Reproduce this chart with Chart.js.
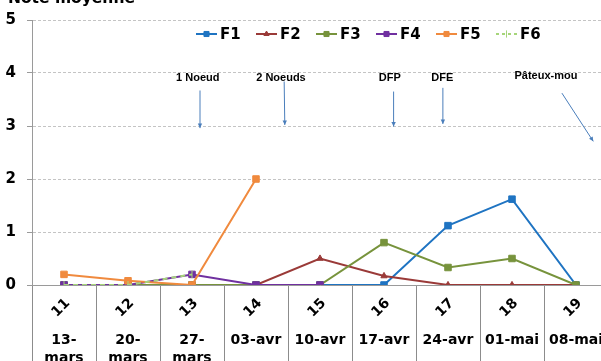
<!DOCTYPE html>
<html>
<head>
<meta charset="utf-8">
<script src="https://cdn.jsdelivr.net/npm/chart.js@4.4.1/dist/chart.umd.min.js"></script>
<style>
  html, body { margin: 0; padding: 0; background: #fff; overflow: hidden; width: 601px; height: 361px; }
  canvas { display: block; }
</style>
</head>
<body>
<canvas id="chart" width="620" height="361"></canvas>
<script>
// Weekly mean score per plot (F1..F6)
const yTitle = 'Note moyenne';
const weeks = ['11', '12', '13', '14', '15', '16', '17', '18', '19'];
const dates = ['13-mars', '20-mars', '27-mars', '03-avr', '10-avr', '17-avr', '24-avr', '01-mai', '08-mai'];
const yTicks = [0, 1, 2, 3, 4, 5];

const f1 = [0, 0, 0, 0, 0, 0, 1.12, 1.62, 0];
const f2 = [0, 0, 0, 0, 0.5, 0.17, 0, 0, 0];
const f3 = [0, 0, 0, 0, 0, 0.8, 0.33, 0.5, 0];
const f4 = [0, 0, 0.2, 0, 0, null, null, null, null];
const f5 = [0.2, 0.08, 0, 2, null, null, null, null, null];
const f6 = [0, 0, 0.2, null, null, null, null, null, null];

// Growth stage notes: label, text anchor and arrow (category index, score)
const noteLabels = ['1 Noeud', '2 Noeuds', 'DFP', 'DFE', 'Pâteux-mou'];
const noteText   = [[2.09, 3.9], [3.39, 3.9], [5.09, 3.9], [5.91, 3.9], [7.53, 3.94]];
const noteFrom   = [[2.125, 3.67], [3.44, 3.84], [5.15, 3.65], [5.92, 3.72], [7.78, 3.62]];
const noteTo     = [[2.125, 2.96], [3.45, 3.02], [5.15, 2.99], [5.92, 3.04], [8.27, 2.71]];

const FONT = '"DejaVu Sans", Verdana, sans-serif';
Chart.defaults.font.family = FONT;

function series(label, data, color, style, radius, extra) {
  return Object.assign({
    label, data,
    borderColor: color, backgroundColor: color,
    pointBackgroundColor: color, pointBorderColor: color,
    borderWidth: 2, pointStyle: style, pointRadius: radius, pointBorderWidth: 1,
    tension: 0, spanGaps: false
  }, extra || {});
}

const datasets = [
  series('F1', f1, '#1F74C2', 'rect', 4.6),
  series('F2', f2, '#9A3A38', 'triangle', 3.6),
  series('F3', f3, '#77933C', 'rect', 4.6),
  series('F4', f4, '#7030A0', 'rect', 4.6),
  series('F5', f5, '#F08A3E', 'rect', 4.6),
  series('F6', f6, '#A6D57A', 'line', 4, { borderDash: [5, 4], pointRotation: 90 })
];
// later series are painted above earlier ones
datasets.forEach((d, i) => { d.order = datasets.length - i; });

const overlay = {
  id: 'overlay',
  afterDraw(chart) {
    const { ctx, scales: { x, y } } = chart;
    ctx.save();

    // axis title (top-left)
    ctx.fillStyle = '#000';
    ctx.font = 'bold 15.5px ' + FONT;
    ctx.textAlign = 'left';
    ctx.textBaseline = 'alphabetic';
    ctx.fillText(yTitle, 8, 3);

    // two-level category labels
    ctx.font = 'bold 14px ' + FONT;
    ctx.textAlign = 'center';
    ctx.textBaseline = 'middle';
    weeks.forEach((w, i) => {
      const px = x.getPixelForValue(i);
      ctx.save();
      ctx.translate(px - 3, x.top + 23);
      ctx.rotate(-Math.PI / 4);
      ctx.fillText(w, 0, 0);
      ctx.restore();
      const d = dates[i];
      let lines = [d];
      if (ctx.measureText(d).width > 58) {
        const k = d.indexOf('-') + 1;
        lines = [d.slice(0, k), d.slice(k)];
      }
      lines.forEach((ln, k) => ctx.fillText(ln, px, x.top + 55 + k * 18));
    });

    // legend: line sample with marker, then label
    ctx.font = 'bold 15px ' + FONT;
    ctx.textAlign = 'left';
    chart.data.datasets.forEach((ds, i) => {
      const x0 = 196 + 60 * i, yy = 34;
      ctx.strokeStyle = ds.borderColor;
      ctx.fillStyle = ds.backgroundColor;
      ctx.lineWidth = 2;
      ctx.setLineDash(ds.borderDash ? [3, 3] : []);
      ctx.beginPath();
      ctx.moveTo(x0, yy);
      ctx.lineTo(x0 + 21, yy);
      ctx.stroke();
      ctx.setLineDash([]);
      ctx.lineWidth = 1;
      Chart.helpers.drawPoint(ctx, {
        pointStyle: ds.pointStyle, rotation: ds.pointRotation || 0,
        radius: ds.pointStyle === 'triangle' ? 3 : 3.6, borderWidth: 1
      }, x0 + 10.5, yy);
      ctx.fillStyle = '#000';
      ctx.fillText(ds.label, x0 + 24, yy + 1);
    });

    // growth stage notes with arrows
    ctx.font = 'bold 11px "Liberation Sans", Arial, sans-serif';
    ctx.textAlign = 'center';
    ctx.strokeStyle = '#4A7EBB';
    noteLabels.forEach((t, i) => {
      const tx = x.getPixelForValue(noteText[i][0]);
      const ty = y.getPixelForValue(noteText[i][1]);
      ctx.fillStyle = '#000';
      ctx.fillText(t, tx, ty);
      const ax = x.getPixelForValue(noteFrom[i][0]), ay = y.getPixelForValue(noteFrom[i][1]);
      const bx = x.getPixelForValue(noteTo[i][0]), by = y.getPixelForValue(noteTo[i][1]);
      ctx.lineWidth = 1;
      ctx.beginPath();
      ctx.moveTo(ax, ay);
      ctx.lineTo(bx, by);
      ctx.stroke();
      const ang = Math.atan2(by - ay, bx - ax), h = 4.5, w = 2.2;
      ctx.fillStyle = '#4A7EBB';
      ctx.beginPath();
      ctx.moveTo(bx, by);
      ctx.lineTo(bx - h * Math.cos(ang) + w * Math.sin(ang), by - h * Math.sin(ang) - w * Math.cos(ang));
      ctx.lineTo(bx - h * Math.cos(ang) - w * Math.sin(ang), by - h * Math.sin(ang) + w * Math.cos(ang));
      ctx.closePath();
      ctx.fill();
    });

    ctx.restore();
  }
};

new Chart(document.getElementById('chart'), {
  type: 'line',
  data: { labels: weeks, datasets },
  options: {
    responsive: false,
    animation: false,
    layout: { padding: { top: 20, left: 0, right: 12, bottom: 0 } },
    plugins: { legend: { display: false }, tooltip: { enabled: false } },
    scales: {
      x: {
        type: 'category',
        offset: true,
        afterFit: (s) => { s.height = 76; },
        ticks: { display: false },
        grid: { offset: true, drawOnChartArea: false, drawTicks: true, tickLength: 76, color: '#8C8C8C', lineWidth: 1 },
        border: { color: '#9A9A9A', width: 1 }
      },
      y: {
        min: 0, max: 5,
        afterFit: (s) => { s.width = 32; },
        afterBuildTicks: (s) => { s.ticks = yTicks.map(v => ({ value: v })); },
        ticks: { color: '#000', font: { size: 15, weight: 'bold' }, padding: 11 },
        grid: { color: '#C4C4C4', tickLength: 5, tickColor: '#9A9A9A', tickBorderDash: [] },
        border: { color: '#9A9A9A', width: 1, dash: [3, 2] }
      }
    }
  },
  plugins: [overlay]
});
</script>
</body>
</html>
